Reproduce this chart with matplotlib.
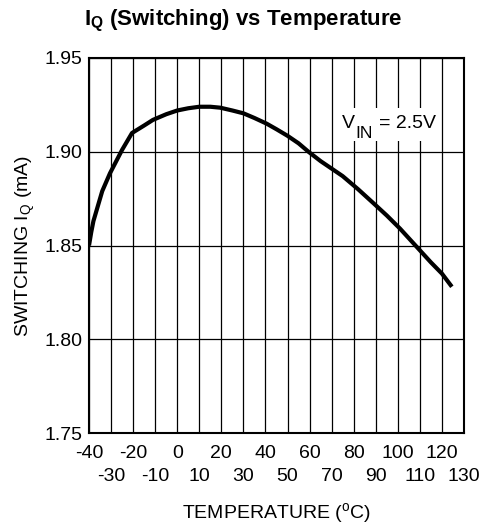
import matplotlib.pyplot as plt
import numpy as np

plt.rcParams['font.family'] = ['Liberation Sans', 'DejaVu Sans']

# Values
temperature = [-40, -39, -38, -36.5, -34, -30.5, -25, -20.5, -15, -11, -5, 0, 5, 10,
               15, 19.5, 25, 30, 35, 40.5, 45, 50, 55, 59.5, 65, 70, 75, 82, 89,
               95, 101, 108, 115, 120, 124.5]
iq = [1.850, 1.857, 1.863, 1.869, 1.879, 1.8885, 1.901, 1.910, 1.914, 1.917,
      1.920, 1.922, 1.9232, 1.924, 1.924, 1.9235, 1.922, 1.9205, 1.918, 1.915,
      1.912, 1.9085, 1.9045, 1.900, 1.895, 1.891, 1.887, 1.880, 1.8725, 1.866,
      1.859, 1.850, 1.841, 1.835, 1.828]

major_ticks = list(range(-40, 121, 20))
minor_ticks = list(range(-30, 131, 20))
y_ticks = [1.75, 1.80, 1.85, 1.90, 1.95]

fig = plt.figure(figsize=(4.8, 5.25), dpi=100)
ax = fig.add_subplot(111)
fig.subplots_adjust(left=89 / 480, right=464 / 480, top=1 - 58 / 525, bottom=1 - 433 / 525)

ax.plot(temperature, iq, color='black', lw=3, solid_capstyle='butt',
        solid_joinstyle='round', zorder=3)

ax.set_xlim(-40, 130)
ax.set_ylim(1.75, 1.95)

ax.set_xticks(major_ticks)
ax.set_xticklabels([str(t) for t in major_ticks])
ax.set_xticks(minor_ticks, minor=True)
ax.set_xticklabels([str(t) for t in minor_ticks], minor=True)
ax.set_yticks(y_ticks)
ax.set_yticklabels(['{:.2f}'.format(v) for v in y_ticks])

ax.tick_params(axis='both', which='both', length=0, labelsize=14)
ax.tick_params(axis='x', which='major', pad=8.5)
ax.tick_params(axis='x', which='minor', pad=25)
ax.tick_params(axis='y', pad=5)

ax.grid(True, which='both', axis='x', color='black', lw=0.9)
ax.grid(True, which='major', axis='y', color='black', lw=0.9)
ax.set_axisbelow(True)
for spine in ax.spines.values():
    spine.set_linewidth(1.5)

# V_IN label on a white patch that hides the grid behind it
ax.add_patch(plt.Rectangle((71.5, 1.9055), 47, 0.018, facecolor='white',
                           edgecolor='none', zorder=2.5))
ax.text(74.7, 1.9127, 'V', fontsize=14, ha='left', va='baseline', zorder=4)
ax.annotate('IN', xy=(74.7, 1.9127), xytext=(9.4, -7.2), textcoords='offset points',
            fontsize=12.5, ha='left', va='baseline', zorder=4)
ax.annotate('= 2.5V', xy=(74.7, 1.9127), xytext=(26.6, 0), textcoords='offset points',
            fontsize=14, ha='left', va='baseline', zorder=4)

ax.set_xlabel(r'TEMPERATURE ($^{\mathregular{o}}$C)', fontsize=14, labelpad=12)
ax.set_ylabel(r'SWITCHING I$_{\mathregular{Q}}$ (mA)', fontsize=14, labelpad=5)
fig.text(243 / 480, 1 - 21 / 525, r'I$_{\mathregular{Q}}$ (Switching) vs Temperature',
         fontsize=16, fontweight='bold', ha='center', va='center')

plt.savefig('out.png')
